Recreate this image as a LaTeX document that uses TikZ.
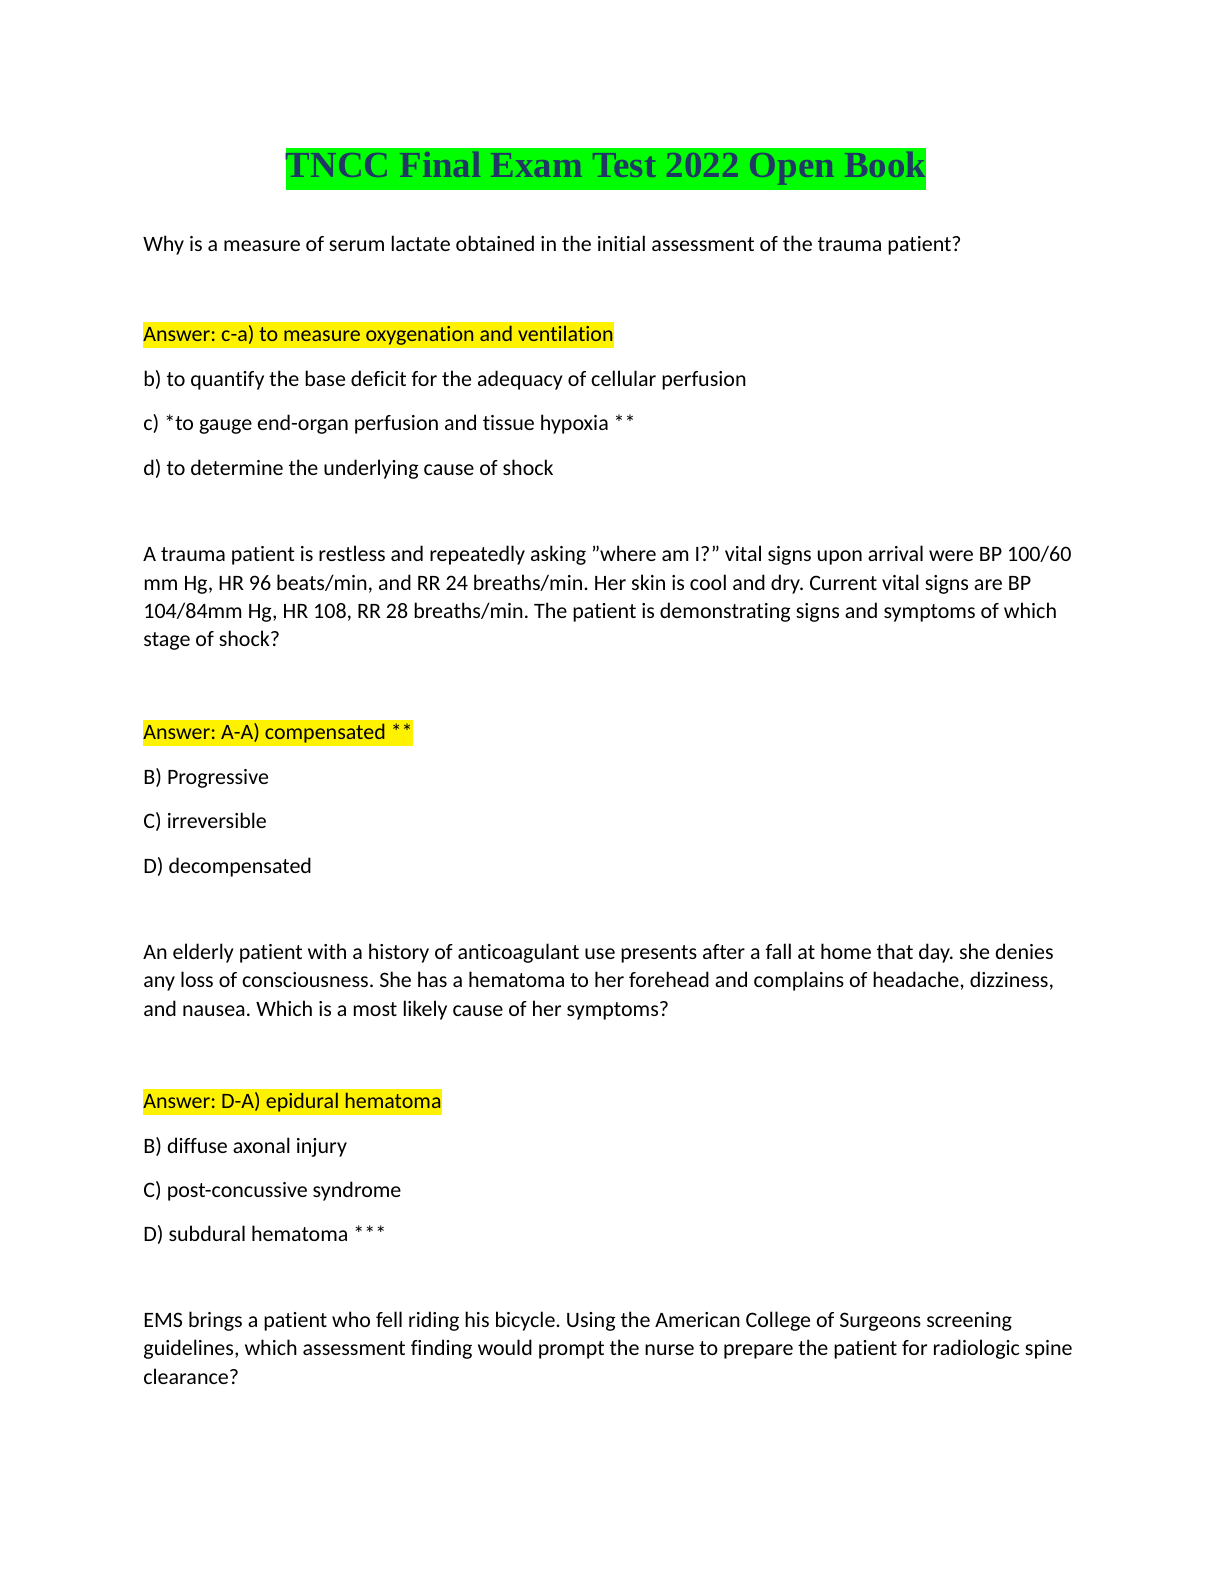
\documentclass[tikz,border=0pt]{standalone}
\usepackage{fontspec}
\setmainfont{Carlito}[Ligatures=NoCommon]
\newfontfamily\titlefont{Liberation Serif}
\definecolor{hlgreen}{RGB}{0,255,0}
\definecolor{titlecol}{RGB}{31,56,100}
\begin{document}
\frenchspacing
\begin{tikzpicture}[x=0.5pt,y=-0.5pt,
  txt/.style={anchor=west,inner sep=0pt,font=\fontsize{11}{14}\selectfont},
  para/.style={anchor=north west,inner sep=0pt,align=left,font=\fontsize{11}{14.1}\selectfont},
  ans/.style={anchor=west,inner xsep=0pt,inner ysep=1.5pt,fill=yellow,font=\fontsize{11}{14}\selectfont}]
\useasboundingbox[fill=white] (0,0) rectangle (1224,1584);
\node[fill=hlgreen,inner xsep=0pt,inner ysep=2pt,text=titlecol,font=\titlefont\bfseries\fontsize{18.45}{22}\selectfont] (title) at (606,169) {TNCC Final Exam Test 2022 Open Book};
\node[txt] (q1) at (143,246) {Why is a measure of serum lactate obtained in the initial assessment of the trauma patient?};
\node[ans] (a1) at (143,335) {Answer: c-a) to measure oxygenation and ventilation};
\node[txt] (b1) at (143,380) {b) to quantify the base deficit for the adequacy of cellular perfusion};
\node[txt] (c1) at (143,424) {c) *to gauge end-organ perfusion and tissue hypoxia **};
\node[txt] (d1) at (143,469) {d) to determine the underlying cause of shock};
\node[para] (q2) at (143,546) {A trauma patient is restless and repeatedly asking \char34 where am I?\char34\ vital signs upon arrival were BP 100/60\\ mm Hg, HR 96 beats/min, and RR 24 breaths/min. Her skin is cool and dry. Current vital signs are BP\\ 104/84mm Hg, HR 108, RR 28 breaths/min. The patient is demonstrating signs and symptoms of which\\ stage of shock?};
\node[ans] (a2) at (143,733) {Answer: A-A) compensated **};
\node[txt] (b2) at (143,778) {B) Progressive};
\node[txt] (c2) at (143,822) {C) irreversible};
\node[txt] (d2) at (143,867) {D) decompensated};
\node[para] (q3) at (143,944) {An elderly patient with a history of anticoagulant use presents after a fall at home that day. she denies\\ any loss of consciousness. She has a hematoma to her forehead and complains of headache, dizziness,\\ and nausea. Which is a most likely cause of her symptoms?};
\node[ans] (a3) at (143,1102) {Answer: D-A) epidural hematoma};
\node[txt] (b3) at (143,1147) {B) diffuse axonal injury};
\node[txt] (c3) at (143,1191) {C) post-concussive syndrome};
\node[txt] (d3) at (143,1235) {D) subdural hematoma ***};
\node[para] (q4) at (143,1312) {EMS brings a patient who fell riding his bicycle. Using the American College of Surgeons screening\\ guidelines, which assessment finding would prompt the nurse to prepare the patient for radiologic spine\\ clearance?};
\end{tikzpicture}
\end{document}
